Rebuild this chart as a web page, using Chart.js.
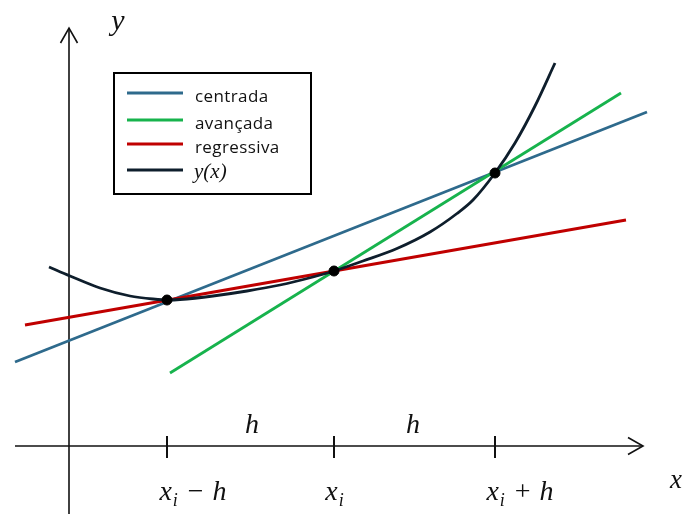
<!DOCTYPE html>
<html><head><meta charset="utf-8">
<style>html,body{margin:0;padding:0;background:#fff;}canvas{display:block;}</style>
<script src="https://cdn.jsdelivr.net/npm/chart.js@4.4.1/dist/chart.umd.min.js"></script>
</head><body>
<canvas id="c" width="683" height="514"></canvas>
<script>
// Data (diagram units; origin at the axes intersection)
const seriesLabels = ['centrada', 'avançada', 'regressiva', 'y(x)'];
const centrada = [{x:-54,y:84},{x:578,y:334}];
const avancada = [{x:101,y:73},{x:552,y:353}];
const regressiva = [{x:-44,y:121},{x:557,y:226}];
const curveX = [-20, 1, 31, 61, 84, 100, 111, 144, 178, 211, 244, 265, 294, 328, 361, 388, 404, 426, 446, 466, 486];
const curveY = [179, 170, 158, 150, 147, 146, 146.5, 150, 155, 161, 169, 175, 185, 197.5, 214, 232.5, 246, 273, 303, 340, 383];
const nodeX = [98, 265, 426];
const nodeY = [146, 175, 273];
const tickLabels = [['x','i','−','h'], ['x','i','',''], ['x','i','+','h']];
const tickLabelX = [124, 266, 451];
const hLabelX = [183, 344];
const axisX = {from:-54, to:574};
const axisY = {from:-68, to:418};

const colors = ['#2e6a8c', '#17b34d', '#c00000', '#0e1e2c'];

const curve = curveX.map((x,i)=>({x, y:curveY[i]}));
const nodes = nodeX.map((x,i)=>({x, y:nodeY[i]}));

const axesPlugin = {
  id:'axes',
  beforeDatasetsDraw(chart){
    const {ctx, scales:{x:sx, y:sy}} = chart;
    ctx.save();
    ctx.strokeStyle = '#111';
    ctx.lineWidth = 1.6;
    const x0 = sx.getPixelForValue(0), y0 = sy.getPixelForValue(0);
    const xa = sx.getPixelForValue(axisX.from), xb = sx.getPixelForValue(axisX.to);
    ctx.beginPath(); ctx.moveTo(xa,y0); ctx.lineTo(xb,y0); ctx.stroke();
    ctx.beginPath(); ctx.moveTo(xb-15,y0-8.5); ctx.lineTo(xb,y0); ctx.lineTo(xb-15,y0+8.5); ctx.stroke();
    const ya = sy.getPixelForValue(axisY.from), yb = sy.getPixelForValue(axisY.to);
    ctx.beginPath(); ctx.moveTo(x0,ya); ctx.lineTo(x0,yb); ctx.stroke();
    ctx.beginPath(); ctx.moveTo(x0-8.5,yb+15); ctx.lineTo(x0,yb); ctx.lineTo(x0+8.5,yb+15); ctx.stroke();
    ctx.lineWidth = 2;
    nodeX.forEach(v=>{
      const px = sx.getPixelForValue(v);
      ctx.beginPath(); ctx.moveTo(px,y0-10); ctx.lineTo(px,y0+12); ctx.stroke();
    });
    ctx.restore();
  },
  afterDatasetsDraw(chart){
    const {ctx, scales:{x:sx, y:sy}} = chart;
    const y0 = sy.getPixelForValue(0);
    ctx.save();
    ctx.fillStyle = '#111';
    ctx.textBaseline = 'alphabetic';
    const mainFont = 'italic 28px "Liberation Serif"';
    const subFont = 'italic 18px "Liberation Serif"';
    const opFont = '28px "Liberation Serif"';
    tickLabels.forEach((p,i)=>{
      ctx.font = mainFont; const w1 = ctx.measureText(p[0]).width;
      ctx.font = subFont; const w2 = ctx.measureText(p[1]).width + 2;
      let w3 = 0, wop = 0, wh = 0;
      if (p[2]) {
        ctx.font = opFont; wop = ctx.measureText(p[2]).width;
        ctx.font = mainFont; wh = ctx.measureText(p[3]).width;
        w3 = 9 + wop + 9 + wh;
      }
      let px = sx.getPixelForValue(tickLabelX[i]) - (w1 + w2 + w3)/2;
      const base = y0 + 54;
      ctx.font = mainFont; ctx.fillText(p[0], px, base); px += w1;
      ctx.font = subFont; ctx.fillText(p[1], px+1, base+6); px += w2;
      if (p[2]) {
        ctx.font = opFont; px += 9; ctx.fillText(p[2], px, base); px += wop + 9;
        ctx.font = mainFont; ctx.fillText(p[3], px, base);
      }
    });
    ctx.font = mainFont;
    ctx.textAlign = 'center';
    hLabelX.forEach(v=> ctx.fillText('h', sx.getPixelForValue(v), y0 - 13));
    ctx.font = 'italic 30px "Liberation Serif"';
    ctx.fillText('y', sx.getPixelForValue(49), sy.getPixelForValue(416));
    ctx.font = 'italic 27px "Liberation Serif"';
    ctx.fillText('x', sx.getPixelForValue(607), sy.getPixelForValue(-42));
    // legend
    ctx.textAlign = 'left';
    const L = 114, T = 73, W = 197, H = 121;
    ctx.fillStyle = '#fff';
    ctx.fillRect(L, T, W, H);
    ctx.strokeStyle = '#000'; ctx.lineWidth = 2;
    ctx.strokeRect(L, T, W, H);
    const rows = [93, 120, 144, 170];
    seriesLabels.forEach((lab,i)=>{
      ctx.strokeStyle = colors[i]; ctx.lineWidth = 3;
      ctx.beginPath(); ctx.moveTo(127, rows[i]); ctx.lineTo(183, rows[i]); ctx.stroke();
      ctx.fillStyle = '#111';
      ctx.textBaseline = 'alphabetic';
      if (i === 3) { ctx.font = 'italic 21px "Liberation Serif"'; ctx.fillText(lab, 194, rows[i]+8); }
      else { ctx.font = '17px "Open Sans"'; ctx.letterSpacing = '0.4px'; ctx.fillText(lab, 195, rows[i]+9); ctx.letterSpacing = '0px'; }
    });
    ctx.restore();
  }
};

new Chart(document.getElementById('c'), {
  type:'scatter',
  data:{
    datasets:[
      {label:seriesLabels[0], data:centrada, showLine:true, borderColor:colors[0], borderWidth:2.8, pointRadius:0, order:4},
      {label:seriesLabels[1], data:avancada, showLine:true, borderColor:colors[1], borderWidth:2.8, pointRadius:0, order:3},
      {label:seriesLabels[2], data:regressiva, showLine:true, borderColor:colors[2], borderWidth:2.8, pointRadius:0, order:2},
      {label:seriesLabels[3], data:curve, showLine:true, borderColor:colors[3], borderWidth:2.8, pointRadius:0, cubicInterpolationMode:'monotone', order:1},
      {label:'nodes', data:nodes, showLine:false, pointRadius:5, pointBackgroundColor:'#000', pointBorderColor:'#000', order:0}
    ]
  },
  options:{
    responsive:false, animation:false,
    layout:{padding:0, autoPadding:false},
    plugins:{legend:{display:false}, tooltip:{enabled:false}},
    scales:{
      x:{type:'linear', min:-69, max:614, display:false},
      y:{type:'linear', min:-68, max:446, display:false}
    }
  },
  plugins:[axesPlugin]
});
</script>
</body></html>
